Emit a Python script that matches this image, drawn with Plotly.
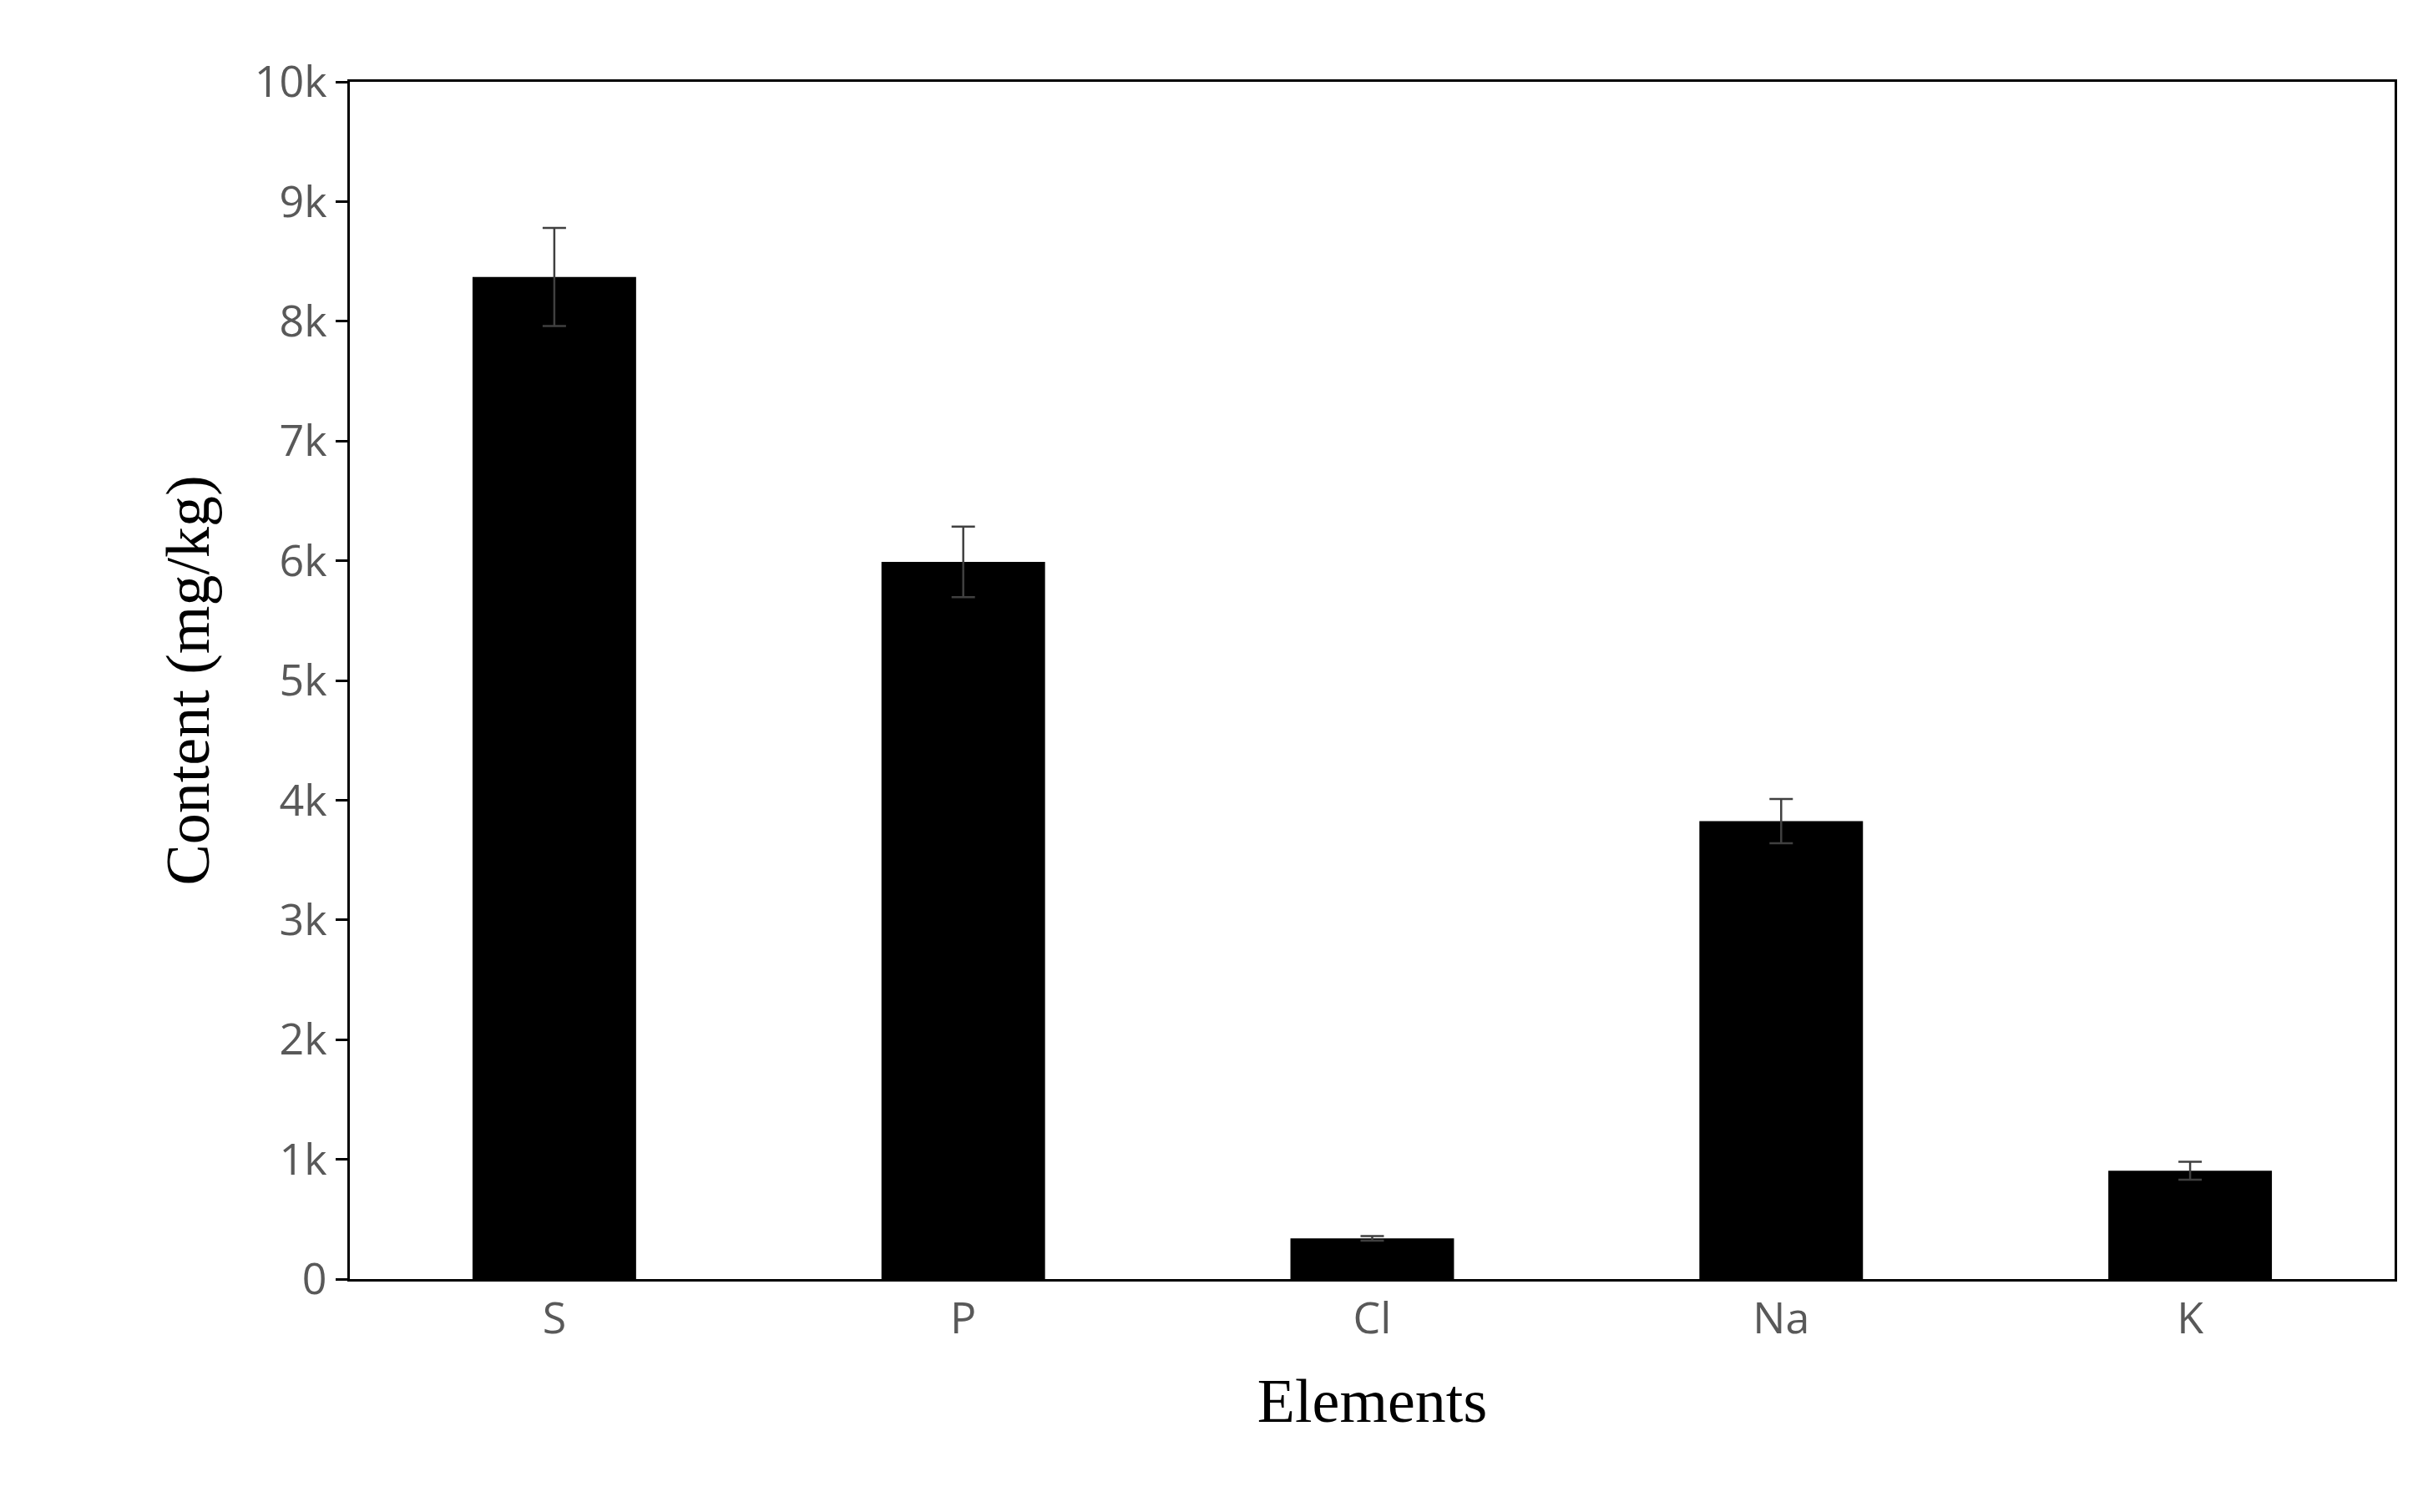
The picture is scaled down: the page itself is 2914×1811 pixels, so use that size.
import plotly.graph_objects as go

elements = ["S", "P", "Cl", "Na", "K"]
content = [8370, 5990, 340, 3825, 905]
errors = [410, 295, 20, 185, 75]

fig = go.Figure(go.Bar(
    x=elements, y=content, width=0.4,
    marker=dict(color="black", line=dict(width=0)),
    error_y=dict(type="data", array=errors, color="#404040", thickness=2.5, width=14),
))

tick_font = dict(family="Open Sans", size=52, color="#595959")
title_font = dict(family="Liberation Serif", size=74, color="black")

fig.update_layout(
    width=2914, height=1811,
    paper_bgcolor="white", plot_bgcolor="white",
    margin=dict(l=411, r=54, t=90, b=287),
    showlegend=False,
)
fig.update_xaxes(
    title=dict(text="Elements", font=title_font, standoff=40),
    tickfont=tick_font, showline=True, linecolor="black", linewidth=3,
    mirror=True, ticks="", ticklen=0,
)
fig.update_yaxes(
    title=dict(text="Content (mg/kg)", font=title_font, standoff=30),
    tickfont=tick_font, range=[0, 10000], dtick=1000,
    showline=True, linecolor="black", linewidth=3, mirror=True,
    ticks="outside", ticklen=14, tickcolor="black", tickwidth=3,
    showgrid=False, zeroline=False,
)

fig.write_html("out.html")
